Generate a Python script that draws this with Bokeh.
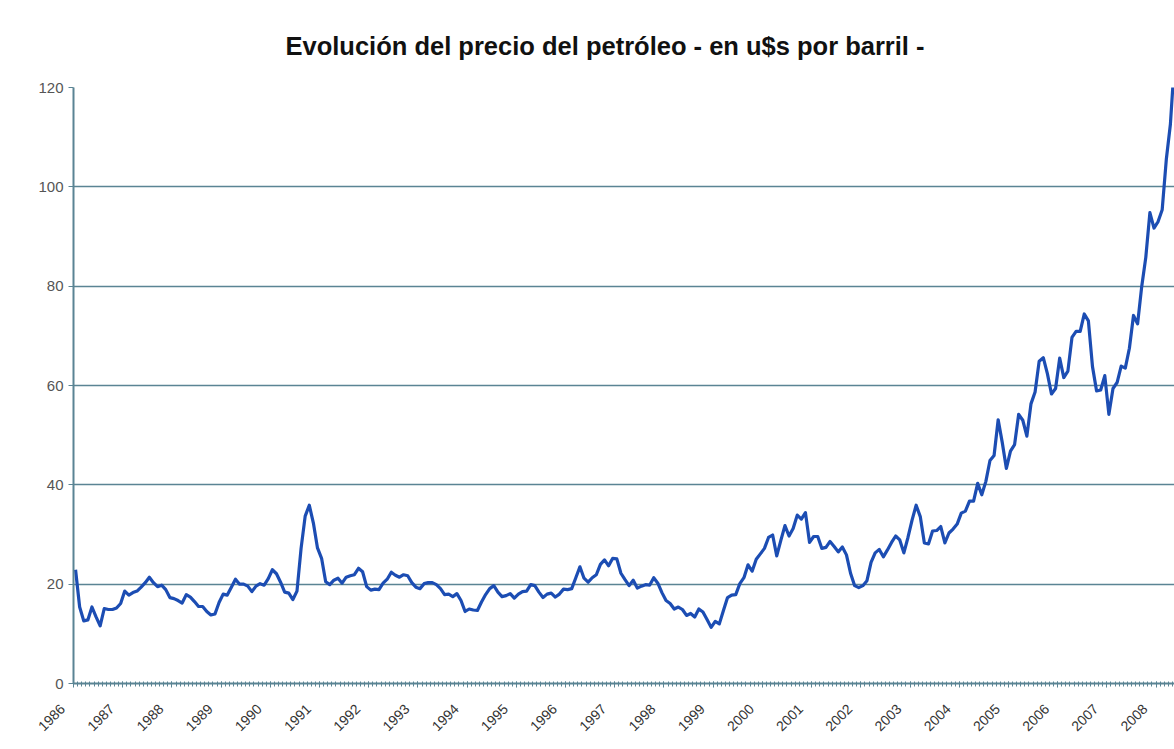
import numpy as np
from math import pi
from bokeh.plotting import figure
from bokeh.models import FixedTicker, Title, ColumnDataSource, Range1d
from bokeh.embed import file_html
from bokeh.resources import INLINE

# Monthly oil price (u$s per barrel), Jan 1986 - May 2008
y1986 = [22.9, 15.4, 12.6, 12.8, 15.4, 13.4, 11.6, 15.1, 14.9, 14.9, 15.2, 16.1]
y1987 = [18.6, 17.8, 18.3, 18.6, 19.4, 20.3, 21.4, 20.3, 19.5, 19.8, 18.9, 17.3]
y1988 = [17.1, 16.7, 16.2, 17.9, 17.4, 16.5, 15.5, 15.5, 14.5, 13.8, 14.0, 16.3]
y1989 = [18.0, 17.8, 19.4, 21.0, 20.0, 20.0, 19.6, 18.5, 19.6, 20.1, 19.8, 21.1]
y1990 = [22.9, 22.1, 20.4, 18.4, 18.2, 16.9, 18.6, 27.2, 33.7, 35.9, 32.3, 27.3]
y1991 = [25.2, 20.5, 19.9, 20.8, 21.2, 20.2, 21.4, 21.7, 21.9, 23.2, 22.5, 19.5]
y1992 = [18.8, 19.0, 18.9, 20.2, 21.0, 22.4, 21.8, 21.4, 21.9, 21.7, 20.3, 19.4]
y1993 = [19.1, 20.1, 20.3, 20.3, 19.9, 19.1, 17.9, 18.0, 17.5, 18.1, 16.7, 14.5]
y1994 = [15.0, 14.8, 14.7, 16.4, 17.9, 19.1, 19.7, 18.4, 17.5, 17.7, 18.1, 17.2]
y1995 = [18.0, 18.5, 18.6, 19.9, 19.7, 18.4, 17.3, 18.0, 18.2, 17.4, 18.0, 19.0]
y1996 = [18.9, 19.1, 21.3, 23.5, 21.2, 20.4, 21.3, 21.9, 24.0, 24.9, 23.7, 25.2]
y1997 = [25.1, 22.2, 20.9, 19.7, 20.8, 19.2, 19.6, 19.9, 19.8, 21.3, 20.2, 18.3]
y1998 = [16.7, 16.1, 15.0, 15.4, 14.9, 13.7, 14.1, 13.4, 15.0, 14.4, 12.9, 11.3]
y1999 = [12.5, 12.0, 14.7, 17.3, 17.8, 17.9, 20.1, 21.3, 23.9, 22.6, 25.0, 26.1]
y2000 = [27.2, 29.4, 29.9, 25.7, 28.8, 31.8, 29.7, 31.2, 33.9, 33.1, 34.4, 28.4]
y2001 = [29.6, 29.6, 27.2, 27.4, 28.6, 27.6, 26.5, 27.5, 25.9, 22.2, 19.7, 19.3]
y2002 = [19.7, 20.7, 24.4, 26.3, 27.0, 25.5, 26.9, 28.4, 29.7, 28.9, 26.3, 29.4]
y2003 = [32.9, 35.9, 33.6, 28.3, 28.1, 30.7, 30.8, 31.6, 28.3, 30.3, 31.1, 32.1]
y2004 = [34.3, 34.7, 36.7, 36.7, 40.3, 38.0, 40.7, 44.9, 45.9, 53.1, 48.5, 43.3]
y2005 = [46.8, 48.1, 54.2, 53.0, 49.8, 56.3, 58.7, 64.9, 65.6, 62.4, 58.3, 59.4]
y2006 = [65.5, 61.6, 62.9, 69.7, 70.9, 70.9, 74.4, 73.0, 63.8, 58.9, 59.1, 62.0]
y2007 = [54.2, 59.4, 60.6, 63.9, 63.5, 67.5, 74.1, 72.4, 79.9, 85.8, 94.8, 91.7]
y2008 = [93.0, 95.4, 105.5, 112.6, 125.4]

years = list(range(1986, 2009))
year_labels = [str(y) for y in years]
y_ticks = [0, 20, 40, 60, 80, 100, 120]

series = (y1986 + y1987 + y1988 + y1989 + y1990 + y1991 + y1992 + y1993 + y1994 +
          y1995 + y1996 + y1997 + y1998 + y1999 + y2000 + y2001 + y2002 + y2003 +
          y2004 + y2005 + y2006 + y2007 + y2008)
n = len(series)
xs = np.arange(n) + 0.5  # centre of each monthly category

src = ColumnDataSource(dict(x=xs, y=series))

GRID = "#5a8494"

p = figure(width=1174, height=749, output_backend="svg", toolbar_location=None,
           x_range=Range1d(0, 268.5), y_range=Range1d(0, 120),
           min_border_left=73, min_border_right=0, min_border_top=87,
           min_border_bottom=66)
p.background_fill_color = "white"
p.border_fill_color = "white"
p.outline_line_color = None

title = Title(text="Evolución del precio del petróleo - en u$s por barril -",
              text_font="Liberation Sans", text_font_size="25.5px",
              text_font_style="bold", text_color="#111111",
              align="left", offset=212, standoff=56)
p.add_layout(title, "above")

p.line("x", "y", source=src, line_color="#1c4db3", line_width=3.2,
       line_join="round")

# y axis
p.yaxis.ticker = FixedTicker(ticks=y_ticks)
p.yaxis.minor_tick_line_color = None
p.yaxis.major_tick_in = 0
p.yaxis.major_tick_out = 5
p.yaxis.major_tick_line_color = GRID
p.yaxis.axis_line_color = GRID
p.yaxis.axis_line_width = 2
p.yaxis.major_label_text_font = "Liberation Sans"
p.yaxis.major_label_text_font_size = "15px"
p.yaxis.major_label_text_color = "#555555"
p.yaxis.major_label_standoff = 5

# x axis (rotated year labels, padded so their ends sit left of the tick as in Excel)
NB = "\u00a0" * 4
year_ticks = [12 * i for i in range(len(years))]
p.xaxis.ticker = FixedTicker(ticks=year_ticks, minor_ticks=list(range(n + 1)))
p.xaxis.major_label_overrides = {t: lab + NB for t, lab in zip(year_ticks, year_labels)}
p.xaxis.major_label_orientation = pi / 4
p.xaxis.major_label_text_font = "Liberation Sans"
p.xaxis.major_label_text_font_size = "14px"
p.xaxis.major_label_text_color = "#333333"
p.xaxis.major_label_standoff = 8
p.xaxis.axis_line_color = GRID
p.xaxis.axis_line_width = 2
p.xaxis.major_tick_line_color = GRID
p.xaxis.minor_tick_line_color = GRID
p.xaxis.major_tick_in = 2
p.xaxis.major_tick_out = 4
p.xaxis.minor_tick_in = 2
p.xaxis.minor_tick_out = 3

p.xgrid.grid_line_color = None
p.ygrid.ticker = FixedTicker(ticks=y_ticks)
p.ygrid.grid_line_color = GRID
p.ygrid.grid_line_width = 1.6

open("out.html", "w").write(file_html(p, INLINE))
